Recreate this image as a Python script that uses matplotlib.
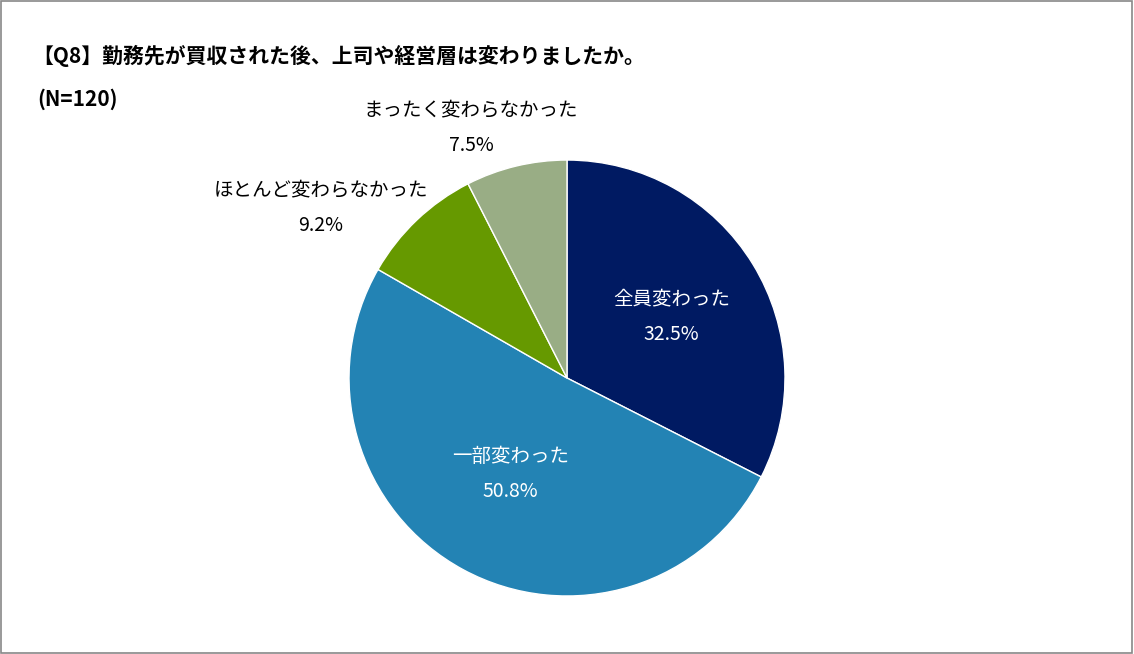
import matplotlib.pyplot as plt
from matplotlib.patches import Rectangle

plt.rcParams['font.family'] = 'Noto Sans CJK JP'

labels = ['全員変わった', '一部変わった', 'ほとんど変わらなかった', 'まったく変わらなかった']
values = [32.5, 50.8, 9.2, 7.5]
colors = ['#001a62', '#2383b4', '#669900', '#99ad85']

fig = plt.figure(figsize=(11.34, 6.54), dpi=100)
fig.patches.append(Rectangle((0.001, 0.001), 0.997, 0.997, transform=fig.transFigure,
                             fill=False, edgecolor='#888888', lw=1.2))

ax = fig.add_axes([0.5 - 0.19224, 0.422 - 0.3333, 0.38448, 0.6666])
wedges, _ = ax.pie(values, colors=colors, startangle=90, counterclock=False,
                   wedgeprops=dict(edgecolor='white', linewidth=1))
ax.set_xlim(-1, 1)
ax.set_ylim(-1, 1)
ax.set_aspect('equal')

# label positions (data coords)
pos = [(0.48, 0.28), (-0.26, -0.44), (-1.13, 0.78), (-0.44, 1.15)]
txtc = ['white', 'white', 'black', 'black']
for lab, v, (x, y), c in zip(labels, values, pos, txtc):
    ax.text(x, y, f'{lab}\n{v}%', ha='center', va='center', color=c,
            fontsize=14, linespacing=1.9, clip_on=False)

fig.text(0.028, 0.915, '【Q8】勤務先が買収された後、上司や経営層は変わりましたか。',
         fontsize=15, fontweight='bold', va='center')
fig.text(0.033, 0.848, '(N=120)', fontsize=15, fontweight='bold', va='center')

fig.savefig('out.png', dpi=100)
